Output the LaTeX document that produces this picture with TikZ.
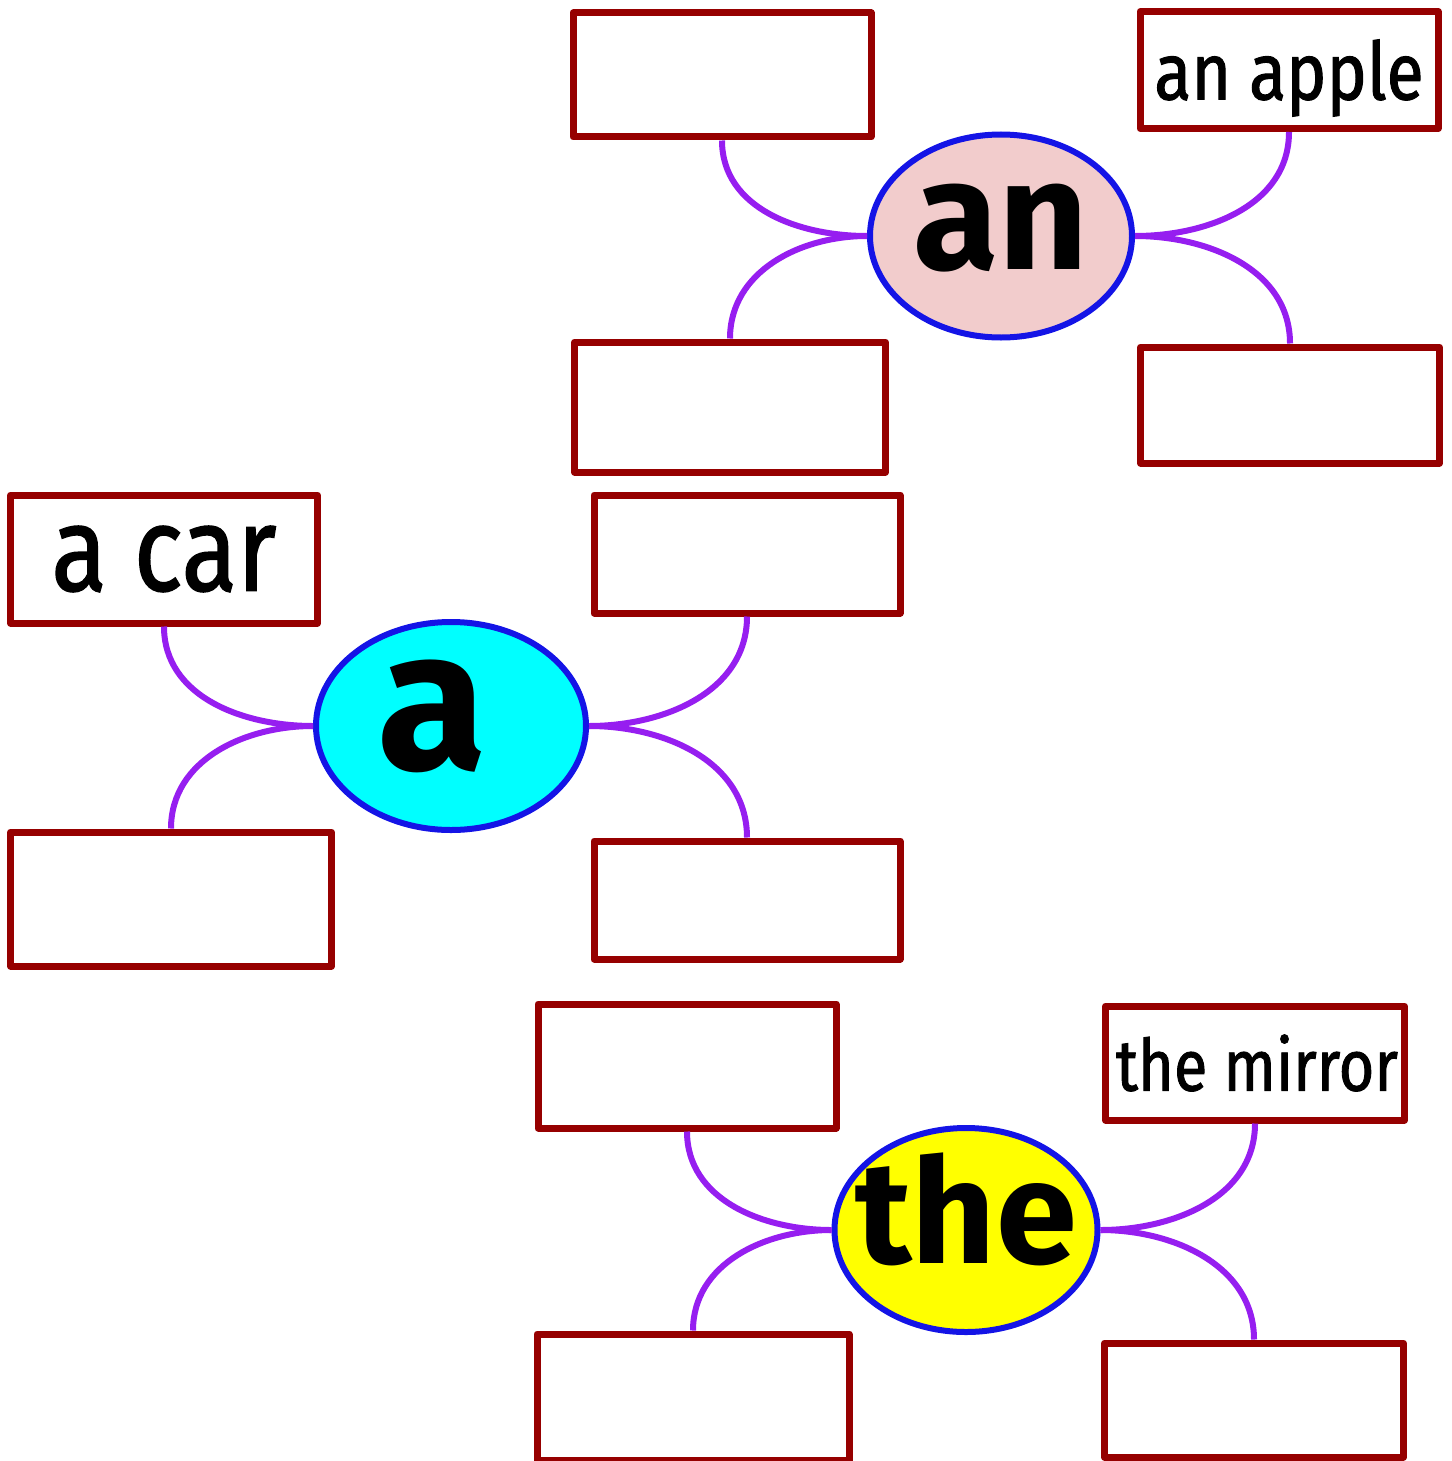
\documentclass[tikz,border=0pt]{standalone}
\usepackage{fontspec}
\setmainfont{Fira Sans}
\newfontfamily\wordfont[FakeStretch=0.85,FakeBold=1.2]{Fira Sans}
\newfontfamily\headfont{Fira Sans}
\usetikzlibrary{shapes.geometric}
\definecolor{boxred}{RGB}{150,0,0}
\definecolor{linkpurple}{RGB}{150,30,240}
\definecolor{ovalblue}{RGB}{20,20,230}
\definecolor{anpink}{RGB}{242,204,204}
\definecolor{acyan}{RGB}{0,255,255}
\definecolor{theyellow}{RGB}{255,255,0}

\begin{document}
\begin{tikzpicture}[x=0.5pt,y=0.5pt,
  wordbox/.style 2 args={draw=boxred, line width=3.5pt, fill=white, line join=round,
    minimum width=#1*0.5pt, minimum height=#2*0.5pt, inner sep=0pt},
  oval/.style={ellipse, draw=ovalblue, line width=3pt, inner sep=0pt,
    minimum width=262*0.5pt, minimum height=203*0.5pt},
  bigword/.style={font=\headfont\bfseries\fontsize{#1}{#1}\selectfont},
  smallword/.style={font=\wordfont\fontsize{#1}{#1}\selectfont},
  link/.style={draw=linkpurple, line width=3pt}]
\useasboundingbox (0,0) rectangle (1451,-1461);
%
\node[oval, fill=anpink, label={[bigword=78pt, yshift=4pt]center:an}] (an) at (1001,-236) {};
\node[wordbox={298}{124}] (anTL) at (722,-75) {};
\node[wordbox={298}{117}, label={[smallword=40pt, yshift=-4pt]center:an apple}] (anTR) at (1289,-70) {};
\node[wordbox={311}{130}] (anBL) at (730,-407) {};
\node[wordbox={299}{116}] (anBR) at (1290,-405) {};
\draw[link] (anTL.south) to[out=-90,in=180] (an.west);
\draw[link] (anBL.north) to[out=90,in=180] (an.west);
\draw[link] (anTR.south) to[out=-90,in=0] (an.east);
\draw[link] (anBR.north) to[out=90,in=0] (an.east);
%
\node[oval, fill=acyan, minimum width=270*0.5pt, minimum height=208*0.5pt,
  label={[bigword=100pt, xshift=-9.5pt, yshift=5pt]center:a}] (a) at (451,-726) {};
\node[wordbox={307}{128}, label={[smallword=60pt]center:a car}] (aTL) at (164,-559) {};
\node[wordbox={306}{118}] (aTR) at (747,-554) {};
\node[wordbox={321}{134}] (aBL) at (171,-899) {};
\node[wordbox={306}{118}] (aBR) at (747,-900) {};
\draw[link] (aTL.south) to[out=-90,in=180] (a.west);
\draw[link] (aBL.north) to[out=90,in=180] (a.west);
\draw[link] (aTR.south) to[out=-90,in=0] (a.east);
\draw[link] (aBR.north) to[out=90,in=0] (a.east);
%
\node[oval, fill=theyellow, minimum width=263*0.5pt, minimum height=204*0.5pt,
  label={[bigword=73pt, yshift=10.5pt]center:the}] (the) at (966,-1230) {};
\node[wordbox={298}{124}] (theTL) at (687,-1066) {};
\node[wordbox={299}{114}, label={[smallword=36pt, xshift=1pt]center:the mirror}] (theTR) at (1255,-1063) {};
\node[wordbox={312}{126}] (theBL) at (693,-1397) {};
\node[wordbox={299}{114}] (theBR) at (1254,-1400) {};
\draw[link] (theTL.south) to[out=-90,in=180] (the.west);
\draw[link] (theBL.north) to[out=90,in=180] (the.west);
\draw[link] (theTR.south) to[out=-90,in=0] (the.east);
\draw[link] (theBR.north) to[out=90,in=0] (the.east);
%
\end{tikzpicture}
\end{document}
